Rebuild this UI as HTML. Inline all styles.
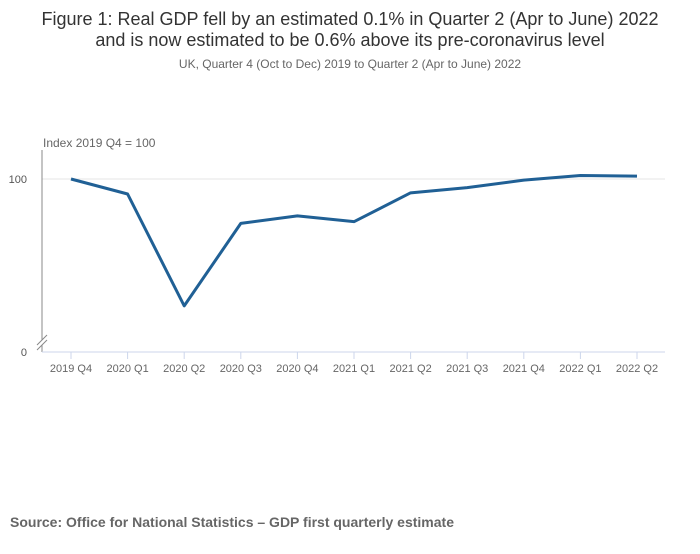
<!DOCTYPE html>
<html><head><meta charset="utf-8"><style>
body{margin:0;background:#fff;width:700px;height:549px;overflow:hidden;font-family:"Liberation Sans",sans-serif}
</style></head><body>
<svg width="700" height="549" xmlns="http://www.w3.org/2000/svg">
<text x="350" y="25" text-anchor="middle" font-size="18" fill="#333">Figure 1: Real GDP fell by an estimated 0.1% in Quarter 2 (Apr to June) 2022</text>
<text x="350" y="46" text-anchor="middle" font-size="18" fill="#333">and is now estimated to be 0.6% above its pre-coronavirus level</text>
<text x="350" y="68" text-anchor="middle" font-size="12" fill="#666">UK, Quarter 4 (Oct to Dec) 2019 to Quarter 2 (Apr to June) 2022</text>
<text x="43" y="147" font-size="12" fill="#666">Index 2019 Q4 = 100</text>
<line x1="42" y1="179" x2="665" y2="179" stroke="#e6e6e6"/>
<line x1="42" y1="150" x2="42" y2="340" stroke="#888"/>
<line x1="42" y1="345" x2="42" y2="352" stroke="#888"/>
<line x1="37" y1="345" x2="47" y2="335" stroke="#888"/>
<line x1="37" y1="350" x2="47" y2="340" stroke="#888"/>
<line x1="42" y1="352" x2="665" y2="352" stroke="#ccd6eb"/>
<text x="27" y="183" text-anchor="end" font-size="11" fill="#555">100</text>
<text x="27" y="356" text-anchor="end" font-size="11" fill="#555">0</text>
<g id="ticks"></g>
<path id="line" fill="none" stroke="#206095" stroke-width="3" stroke-linejoin="round"/>
<text x="10" y="527" font-size="14" font-weight="bold" fill="#666">Source:  Office for National Statistics – GDP first quarterly estimate</text>
</svg>
<script>
const categories=["2019 Q4","2020 Q1","2020 Q2","2020 Q3","2020 Q4","2021 Q1","2021 Q2","2021 Q3","2021 Q4","2022 Q1","2022 Q2"];
const values=[100,97.4,78.0,92.3,93.6,92.6,97.6,98.5,99.8,100.6,100.5];
const x=i=>71+i*(637-71)/(categories.length-1);
const y=v=>352-(v-70)*(352-179)/30;
const ns="http://www.w3.org/2000/svg";
const g=document.getElementById('ticks');
categories.forEach((c,i)=>{
 const t=document.createElementNS(ns,'line');
 t.setAttribute('x1',x(i));t.setAttribute('x2',x(i));t.setAttribute('y1',352);t.setAttribute('y2',359);
 t.setAttribute('stroke','#ccd6eb');
 
 
 g.appendChild(t);
 const l=document.createElementNS(ns,'text');
 l.setAttribute('x',x(i));l.setAttribute('y',372);l.setAttribute('text-anchor','middle');
 l.setAttribute('font-size','11');l.setAttribute('fill','#666');l.textContent=c;
 
 
 g.appendChild(l);
});
document.getElementById('line').setAttribute('d',values.map((v,i)=>(i?'L':'M')+x(i)+' '+y(v)).join(' '));
</script>
</body></html>
